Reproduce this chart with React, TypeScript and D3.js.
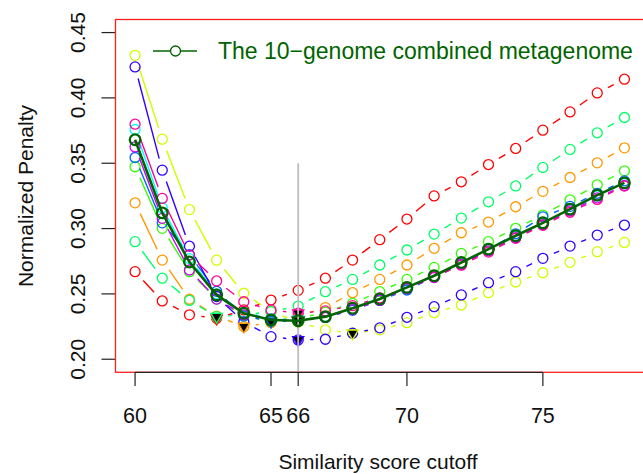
import React from 'react';
import * as d3 from 'd3';

const cutoffs = [60, 61, 62, 63, 64, 65, 66, 67, 68, 69, 70, 71, 72, 73, 74, 75, 76, 77, 78];

const redVals = [0.267, 0.2446, 0.234, 0.2313, 0.2377, 0.2453, 0.2527, 0.262, 0.2759, 0.2915, 0.3073, 0.325, 0.3358, 0.349, 0.3613, 0.3753, 0.3893, 0.4038, 0.4143];
const orangeVals = [0.3197, 0.2759, 0.2459, 0.233, 0.225, 0.228, 0.233, 0.2395, 0.2509, 0.2611, 0.2721, 0.2849, 0.2968, 0.305, 0.3167, 0.3285, 0.3391, 0.3503, 0.3618];
const yellowGreenVals = [0.4326, 0.3684, 0.3145, 0.2758, 0.2505, 0.2364, 0.2285, 0.2224, 0.2199, 0.2225, 0.228, 0.2356, 0.2415, 0.2509, 0.2591, 0.2662, 0.2742, 0.2823, 0.2894];
const greenVals = [0.3473, 0.3002, 0.267, 0.246, 0.233, 0.229, 0.231, 0.236, 0.2428, 0.2517, 0.2611, 0.2703, 0.281, 0.29, 0.3002, 0.3103, 0.322, 0.3335, 0.3442];
const springVals = [0.29, 0.262, 0.245, 0.2326, 0.234, 0.2364, 0.2407, 0.2517, 0.2611, 0.2721, 0.2836, 0.2958, 0.308, 0.3205, 0.3326, 0.3468, 0.3606, 0.3733, 0.385];
const cyanVals = [0.3758, 0.316, 0.277, 0.25, 0.236, 0.231, 0.2305, 0.2325, 0.2385, 0.2455, 0.254, 0.263, 0.2735, 0.284, 0.294, 0.304, 0.3145, 0.325, 0.3345];
const azureVals = [0.3544, 0.3044, 0.28, 0.252, 0.233, 0.229, 0.229, 0.232, 0.2375, 0.245, 0.253, 0.263, 0.2725, 0.284, 0.296, 0.309, 0.317, 0.327, 0.3365];
const indigoVals = [0.4237, 0.3447, 0.2865, 0.248, 0.2285, 0.2173, 0.2148, 0.2153, 0.2199, 0.224, 0.2321, 0.2402, 0.2492, 0.2586, 0.267, 0.2772, 0.2866, 0.295, 0.3027];
const purpleVals = [0.3625, 0.3078, 0.2683, 0.246, 0.234, 0.23, 0.2298, 0.232, 0.238, 0.245, 0.254, 0.2625, 0.2725, 0.283, 0.293, 0.303, 0.3135, 0.3235, 0.333];
const pinkVals = [0.3799, 0.3231, 0.2797, 0.2599, 0.244, 0.2377, 0.2352, 0.237, 0.241, 0.247, 0.2545, 0.263, 0.272, 0.282, 0.2925, 0.3025, 0.3125, 0.3223, 0.3325];
const combinedVals = [0.368, 0.312, 0.2744, 0.2492, 0.2352, 0.23, 0.2295, 0.2326, 0.239, 0.2461, 0.255, 0.2639, 0.274, 0.2843, 0.2945, 0.3044, 0.3149, 0.3256, 0.335];

const seriesColors = ['#FF0000', '#FF9900', '#CCFF00', '#33FF00', '#00FF66', '#00FFFF', '#0066FF', '#3300FF', '#CC00FF', '#FF0099'];
const seriesValues = [redVals, orangeVals, yellowGreenVals, greenVals, springVals, cyanVals, azureVals, indigoVals, purpleVals, pinkVals];

const xTicks = [60, 65, 66, 70, 75];
const yTicks = [0.2, 0.25, 0.3, 0.35, 0.4, 0.45];
const optimalCutoff = 66;
const legendLabel = 'The 10\u2212genome combined metagenome';
const xTitle = 'Similarity score cutoff';
const yTitle = 'Normalized Penalty';

const W = 643;
const H = 474;
const FONT = '"Liberation Sans", Arial, Helvetica, sans-serif';
const DARK = '#006400';

const x = d3.scaleLinear().domain([59.28, 78.72]).range([115.5, 644]);
const y = d3.scaleLinear().domain([0.19, 0.46]).range([372.3, 19.5]);

function gappedSegments(vals: number[], gap: number) {
  const segs: string[] = [];
  for (let i = 0; i < vals.length - 1; i++) {
    const x1 = x(cutoffs[i]), y1 = y(vals[i]);
    const x2 = x(cutoffs[i + 1]), y2 = y(vals[i + 1]);
    const dx = x2 - x1, dy = y2 - y1;
    const len = Math.hypot(dx, dy);
    if (len <= 2 * gap) continue;
    const ux = dx / len, uy = dy / len;
    segs.push(`M${x1 + ux * gap},${y1 + uy * gap}L${x2 - ux * gap},${y2 - uy * gap}`);
  }
  return segs.join('');
}

function triPath(cx: number, cy: number, r: number) {
  const h = r * 0.866;
  return `M${cx - h},${cy - r / 2}L${cx + h},${cy - r / 2}L${cx},${cy + r}Z`;
}

export default function App() {
  const line = d3.line<number>().x((_, i) => x(cutoffs[i])).y((d) => y(d));
  const minIdx = (vals: number[]) => d3.minIndex(vals);

  return (
    <svg width={W} height={H} style={{ position: 'absolute', left: 0, top: 0, background: '#fff' }}
      fontFamily={FONT}>
      <rect x={0} y={0} width={W} height={H} fill="#fff" />
      <g stroke="#222" strokeWidth={1.2}>
        {yTicks.map((t) => (
          <line key={t} x1={101.5} x2={115.5} y1={y(t)} y2={y(t)} />
        ))}
      </g>
      {yTicks.map((t) => (
        <text key={'yl' + t} transform={`translate(${85},${y(t)}) rotate(-90)`} textAnchor="middle"
          fontSize={21} fill="#111">{t.toFixed(2)}</text>
      ))}
      <rect x={115.5} y={19.5} width={644 - 115.5} height={372.3 - 19.5} fill="none" stroke="#FF2020" strokeWidth={1.3} />
      {seriesValues.map((vals, k) => (
        <g key={'s' + k}>
          <path d={gappedSegments(vals, 12)} stroke={seriesColors[k]} strokeWidth={1.4} fill="none" />
          {vals.map((v, i) => (
            <circle key={i} cx={x(cutoffs[i])} cy={y(v)} r={5} fill="none" stroke={seriesColors[k]} strokeWidth={1.3} />
          ))}
        </g>
      ))}
      {seriesValues.map((vals, k) => {
        const i = minIdx(vals);
        return (
          <path key={'t' + k} d={triPath(x(cutoffs[i]), y(vals[i]), 6.5)} fill="#000" stroke={seriesColors[k]} strokeWidth={1.3} />
        );
      })}
      {(() => {
        const i = minIdx(combinedVals);
        return <path d={triPath(x(cutoffs[i]), y(combinedVals[i]), 7)} fill="#000" stroke={DARK} strokeWidth={1.5} />;
      })()}
      <line x1={x(optimalCutoff)} x2={x(optimalCutoff)} y1={y(0.35)} y2={372.3} stroke="#BEBEBE" strokeWidth={1.8} />
      <path d={line(combinedVals) || ''} stroke={DARK} strokeWidth={2.6} fill="none" />
      {combinedVals.map((v, i) => (
        <circle key={'c' + i} cx={x(cutoffs[i])} cy={y(v)} r={5.3} fill="none" stroke={DARK} strokeWidth={2.3} />
      ))}
      <line x1={x(xTicks[0])} x2={x(xTicks[xTicks.length - 1])} y1={372.3} y2={372.3} stroke="#222" strokeWidth={1.3} />
      <g stroke="#222" strokeWidth={1.2}>
        {xTicks.map((t) => (
          <line key={t} x1={x(t)} x2={x(t)} y1={372.3} y2={386} />
        ))}
      </g>
      {xTicks.map((t) => (
        <text key={'xl' + t} x={x(t)} y={423} textAnchor="middle" fontSize={21.5} fill="#111">{t}</text>
      ))}
      <text x={378} y={469} textAnchor="middle" fontSize={21} fill="#111">{xTitle}</text>
      <text transform={`translate(33,196) rotate(-90)`} textAnchor="middle" fontSize={21} fill="#111">{yTitle}</text>
      <line x1={153} x2={197} y1={51} y2={51} stroke={DARK} strokeWidth={1.3} />
      <circle cx={175.5} cy={51} r={5} fill="#fff" stroke={DARK} strokeWidth={1.3} />
      <text x={218} y={59} fontSize={23} fill={DARK}>{legendLabel}</text>
    </svg>
  );
}
